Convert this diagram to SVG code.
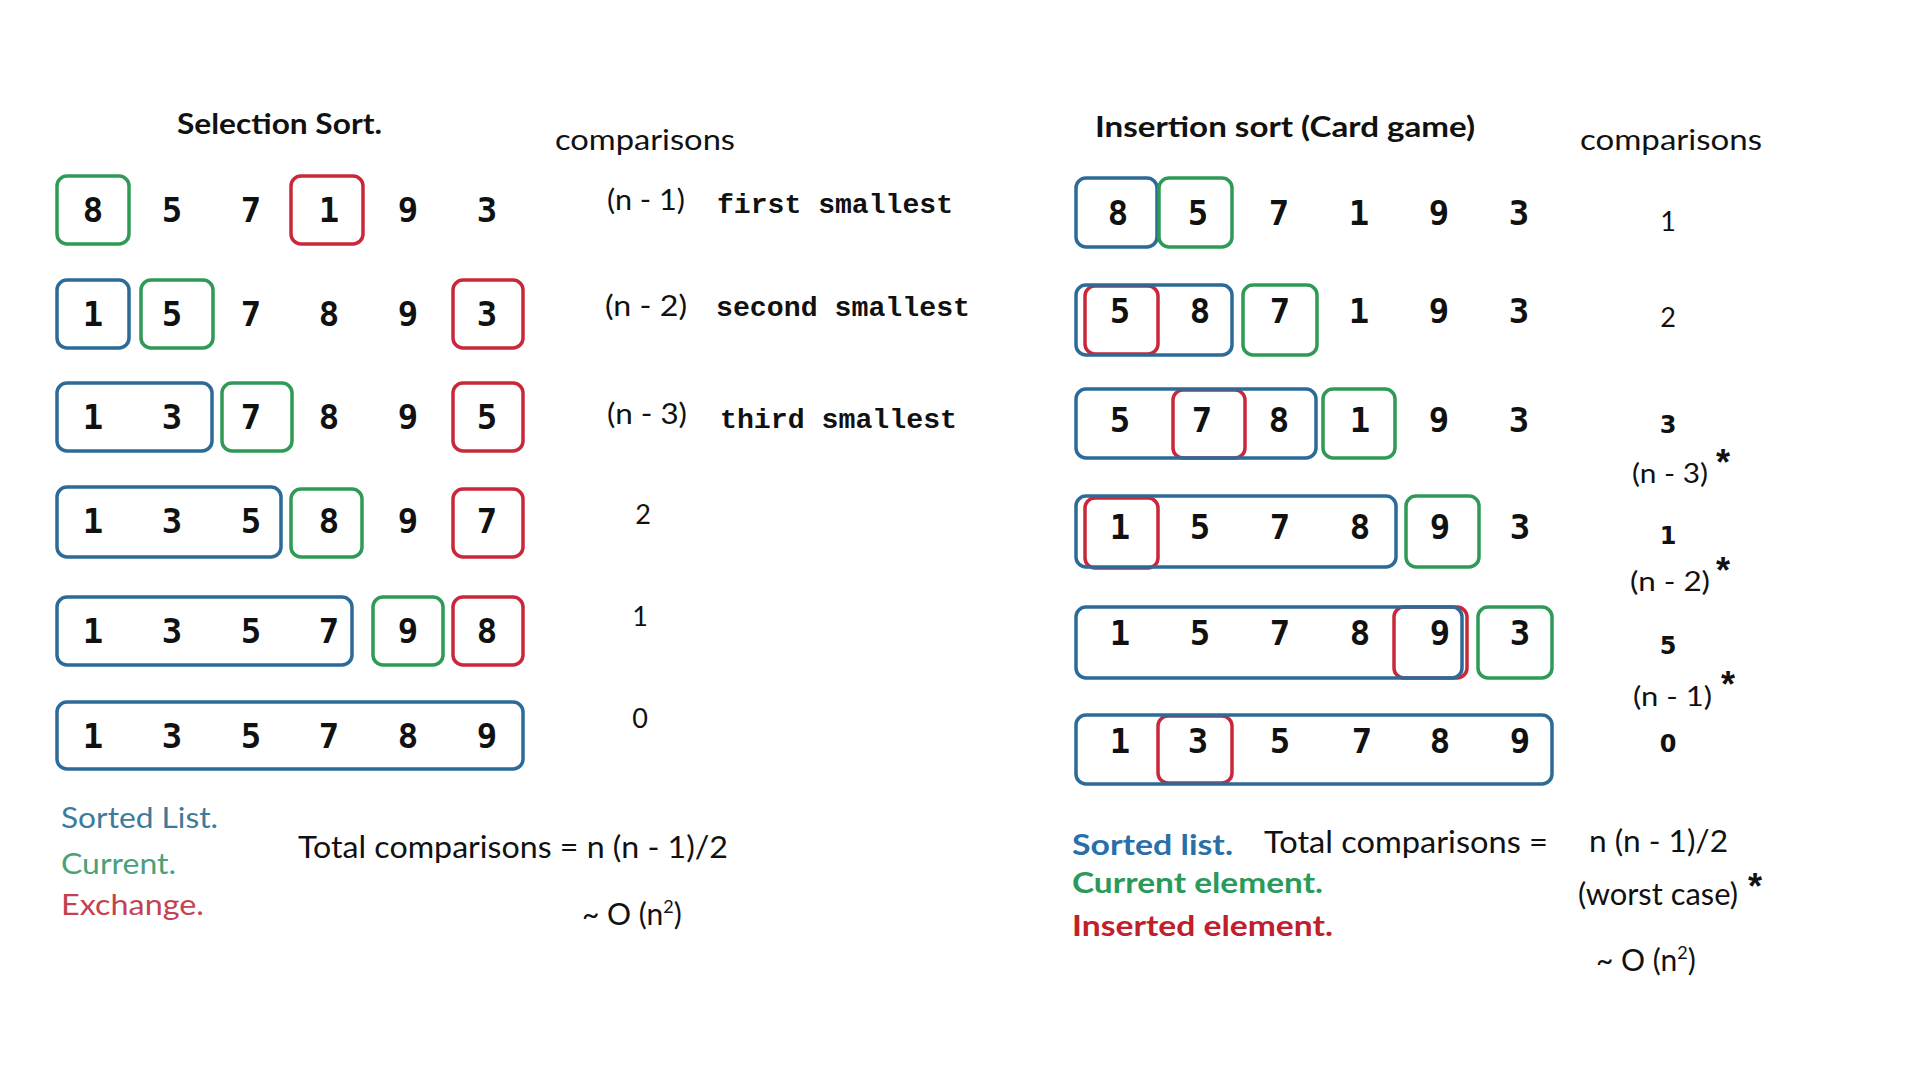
<svg xmlns="http://www.w3.org/2000/svg" width="1920" height="1080" viewBox="0 0 1920 1080">
<style>
.d{font-family:"DejaVu Sans Mono","Liberation Mono",monospace;font-weight:bold;font-size:34px;text-anchor:middle;fill:#111}
.bx{fill:none;stroke-width:3.5}
.b{stroke:#2c6a98}
.g{stroke:#2e9a55}
.r{stroke:#c8283a}
.t{font-family:Lato,"Liberation Sans",sans-serif;fill:#111}
.ti{font-family:Lato,"Liberation Sans",sans-serif;font-weight:bold;font-size:28px;fill:#111}
.m{font-family:"Liberation Mono","DejaVu Sans Mono",monospace;font-weight:bold;font-size:28px;fill:#111}
.c{font-family:Lato,"Liberation Sans",sans-serif;font-size:27px;fill:#111;text-anchor:middle}
.cb{font-family:"DejaVu Sans","Liberation Sans",sans-serif;font-weight:bold;font-size:24px;fill:#111;text-anchor:middle}
.st{font-family:"Liberation Sans",sans-serif;font-weight:bold;font-size:36px;fill:#111;text-anchor:middle}
</style>
<rect width="1920" height="1080" fill="#ffffff"/>

<!-- Selection sort -->
<g id="sel-title"><text class="ti" x="177" y="134" textLength="205" lengthAdjust="spacingAndGlyphs">Selection Sort.</text></g>
<g id="sel-comp-head"><text class="t" x="555" y="150" font-size="28" textLength="180" lengthAdjust="spacingAndGlyphs">comparisons</text></g>

<g id="sel-row1">
<rect class="bx g" x="57" y="176" width="72" height="68" rx="10"/>
<rect class="bx r" x="291" y="176" width="72" height="68" rx="10"/>
<text class="d" x="93" y="222">8</text><text class="d" x="172" y="222">5</text><text class="d" x="251" y="222">7</text><text class="d" x="329" y="222">1</text><text class="d" x="408" y="222">9</text><text class="d" x="487" y="222">3</text>
</g>
<g id="sel-row2">
<rect class="bx b" x="57" y="280" width="72" height="68" rx="10"/>
<rect class="bx g" x="141" y="280" width="72" height="68" rx="10"/>
<rect class="bx r" x="453" y="280" width="70" height="68" rx="10"/>
<text class="d" x="93" y="326">1</text><text class="d" x="172" y="326">5</text><text class="d" x="251" y="326">7</text><text class="d" x="329" y="326">8</text><text class="d" x="408" y="326">9</text><text class="d" x="487" y="326">3</text>
</g>
<g id="sel-row3">
<rect class="bx b" x="57" y="383" width="155" height="68" rx="10"/>
<rect class="bx g" x="222" y="383" width="70" height="68" rx="10"/>
<rect class="bx r" x="453" y="383" width="70" height="68" rx="10"/>
<text class="d" x="93" y="429">1</text><text class="d" x="172" y="429">3</text><text class="d" x="251" y="429">7</text><text class="d" x="329" y="429">8</text><text class="d" x="408" y="429">9</text><text class="d" x="487" y="429">5</text>
</g>
<g id="sel-row4">
<rect class="bx b" x="57" y="487" width="224" height="70" rx="10"/>
<rect class="bx g" x="291" y="489" width="71" height="68" rx="10"/>
<rect class="bx r" x="453" y="489" width="70" height="68" rx="10"/>
<text class="d" x="93" y="533">1</text><text class="d" x="172" y="533">3</text><text class="d" x="251" y="533">5</text><text class="d" x="329" y="533">8</text><text class="d" x="408" y="533">9</text><text class="d" x="487" y="533">7</text>
</g>
<g id="sel-row5">
<rect class="bx b" x="57" y="597" width="295" height="68" rx="10"/>
<rect class="bx g" x="373" y="597" width="70" height="68" rx="10"/>
<rect class="bx r" x="453" y="597" width="70" height="68" rx="10"/>
<text class="d" x="93" y="643">1</text><text class="d" x="172" y="643">3</text><text class="d" x="251" y="643">5</text><text class="d" x="329" y="643">7</text><text class="d" x="408" y="643">9</text><text class="d" x="487" y="643">8</text>
</g>
<g id="sel-row6">
<rect class="bx b" x="57" y="702" width="466" height="67" rx="10"/>
<text class="d" x="93" y="748">1</text><text class="d" x="172" y="748">3</text><text class="d" x="251" y="748">5</text><text class="d" x="329" y="748">7</text><text class="d" x="408" y="748">8</text><text class="d" x="487" y="748">9</text>
</g>

<g id="sel-comparisons">
<text class="t" x="607" y="210" font-size="28" textLength="78" lengthAdjust="spacingAndGlyphs">(n - 1)</text>
<text class="m" x="717" y="213" textLength="236" lengthAdjust="spacingAndGlyphs">first smallest</text>
<text class="t" x="605" y="316" font-size="28" textLength="82" lengthAdjust="spacingAndGlyphs">(n - 2)</text>
<text class="m" x="716" y="316" textLength="254" lengthAdjust="spacingAndGlyphs">second smallest</text>
<text class="t" x="607" y="424" font-size="28" textLength="80" lengthAdjust="spacingAndGlyphs">(n - 3)</text>
<text class="m" x="720" y="428" textLength="237" lengthAdjust="spacingAndGlyphs">third smallest</text>
<text class="c" x="643" y="524">2</text>
<text class="c" x="640" y="626">1</text>
<text class="c" x="640" y="728">0</text>
</g>

<g id="sel-legend">
<text class="t" x="61" y="828" font-size="29" style="fill:#3b7b9b" textLength="157" lengthAdjust="spacingAndGlyphs">Sorted List.</text>
<text class="t" x="61" y="874" font-size="29" style="fill:#49a079" textLength="115" lengthAdjust="spacingAndGlyphs">Current.</text>
<text class="t" x="61" y="915" font-size="29" style="fill:#c4414f" textLength="143" lengthAdjust="spacingAndGlyphs">Exchange.</text>
</g>
<g id="sel-total">
<text class="t" x="298" y="858" font-size="30" textLength="430" lengthAdjust="spacingAndGlyphs">Total comparisons = n (n - 1)/2</text>
<text class="t" x="582" y="925" font-size="30">~ O (n<tspan font-size="18" dy="-12">2</tspan><tspan dy="12">)</tspan></text>
</g>

<!-- Insertion sort -->
<g id="ins-title"><text class="ti" x="1095" y="137" textLength="380" lengthAdjust="spacingAndGlyphs">Insertion sort (Card game)</text></g>
<g id="ins-comp-head"><text class="t" x="1580" y="150" font-size="28" textLength="182" lengthAdjust="spacingAndGlyphs">comparisons</text></g>

<g id="ins-row1">
<rect class="bx b" x="1076" y="178" width="81" height="69" rx="10"/>
<rect class="bx g" x="1159" y="178" width="73" height="69" rx="10"/>
<text class="d" x="1118" y="225">8</text><text class="d" x="1198" y="225">5</text><text class="d" x="1279" y="225">7</text><text class="d" x="1359" y="225">1</text><text class="d" x="1439" y="225">9</text><text class="d" x="1519" y="225">3</text>
</g>
<g id="ins-row2">
<rect class="bx r" x="1085" y="286" width="73" height="68" rx="10"/>
<rect class="bx b" x="1076" y="285" width="156" height="70" rx="10"/>
<rect class="bx g" x="1243" y="285" width="74" height="70" rx="10"/>
<text class="d" x="1120" y="323">5</text><text class="d" x="1200" y="323">8</text><text class="d" x="1280" y="323">7</text><text class="d" x="1359" y="323">1</text><text class="d" x="1439" y="323">9</text><text class="d" x="1519" y="323">3</text>
</g>
<g id="ins-row3">
<rect class="bx r" x="1173" y="390" width="72" height="68" rx="10"/>
<rect class="bx b" x="1076" y="389" width="240" height="69" rx="10"/>
<rect class="bx g" x="1323" y="389" width="72" height="69" rx="10"/>
<text class="d" x="1120" y="432">5</text><text class="d" x="1202" y="432">7</text><text class="d" x="1279" y="432">8</text><text class="d" x="1360" y="432">1</text><text class="d" x="1439" y="432">9</text><text class="d" x="1519" y="432">3</text>
</g>
<g id="ins-row4">
<rect class="bx r" x="1085" y="498" width="73" height="70" rx="10"/>
<rect class="bx b" x="1076" y="496" width="320" height="71" rx="10"/>
<rect class="bx g" x="1406" y="496" width="73" height="71" rx="10"/>
<text class="d" x="1120" y="539">1</text><text class="d" x="1200" y="539">5</text><text class="d" x="1280" y="539">7</text><text class="d" x="1360" y="539">8</text><text class="d" x="1440" y="539">9</text><text class="d" x="1520" y="539">3</text>
</g>
<g id="ins-row5">
<rect class="bx r" x="1394" y="607" width="73" height="71" rx="10"/>
<rect class="bx b" x="1076" y="607" width="386" height="71" rx="10"/>
<rect class="bx g" x="1478" y="607" width="74" height="71" rx="10"/>
<text class="d" x="1120" y="645">1</text><text class="d" x="1200" y="645">5</text><text class="d" x="1280" y="645">7</text><text class="d" x="1360" y="645">8</text><text class="d" x="1440" y="645">9</text><text class="d" x="1520" y="645">3</text>
</g>
<g id="ins-row6">
<rect class="bx r" x="1158" y="716" width="74" height="67" rx="10"/>
<rect class="bx b" x="1076" y="715" width="476" height="69" rx="10"/>
<text class="d" x="1120" y="753">1</text><text class="d" x="1198" y="753">3</text><text class="d" x="1280" y="753">5</text><text class="d" x="1362" y="753">7</text><text class="d" x="1440" y="753">8</text><text class="d" x="1520" y="753">9</text>
</g>

<g id="ins-comparisons">
<text class="c" x="1668" y="231">1</text>
<text class="c" x="1668" y="327">2</text>
<text class="cb" x="1668" y="433">3</text>
<text class="t" x="1632" y="483" font-size="27" textLength="76" lengthAdjust="spacingAndGlyphs">(n - 3)</text>
<text class="st" x="1723" y="475">*</text>
<text class="cb" x="1668" y="544">1</text>
<text class="t" x="1630" y="591" font-size="27" textLength="80" lengthAdjust="spacingAndGlyphs">(n - 2)</text>
<text class="st" x="1723" y="583">*</text>
<text class="cb" x="1668" y="654">5</text>
<text class="t" x="1633" y="706" font-size="27" textLength="79" lengthAdjust="spacingAndGlyphs">(n - 1)</text>
<text class="st" x="1728" y="697">*</text>
<text class="cb" x="1668" y="752">0</text>
</g>

<g id="ins-legend">
<text class="t" x="1072" y="855" font-size="28" font-weight="bold" style="fill:#2a6fa8" textLength="161" lengthAdjust="spacingAndGlyphs">Sorted list.</text>
<text class="t" x="1072" y="893" font-size="28" font-weight="bold" style="fill:#2a9a5a" textLength="251" lengthAdjust="spacingAndGlyphs">Current element.</text>
<text class="t" x="1072" y="936" font-size="28" font-weight="bold" style="fill:#c0202a" textLength="261" lengthAdjust="spacingAndGlyphs">Inserted element.</text>
</g>
<g id="ins-total">
<text class="t" x="1264" y="853" font-size="30" textLength="284" lengthAdjust="spacingAndGlyphs">Total comparisons =</text>
<text class="t" x="1589" y="852" font-size="30" textLength="139" lengthAdjust="spacingAndGlyphs">n (n - 1)/2</text>
<text class="t" x="1578" y="905" font-size="30" textLength="160" lengthAdjust="spacingAndGlyphs">(worst case)</text>
<text class="st" x="1755" y="899">*</text>
<text class="t" x="1596" y="971" font-size="30">~ O (n<tspan font-size="18" dy="-12">2</tspan><tspan dy="12">)</tspan></text>
</g>
</svg>
